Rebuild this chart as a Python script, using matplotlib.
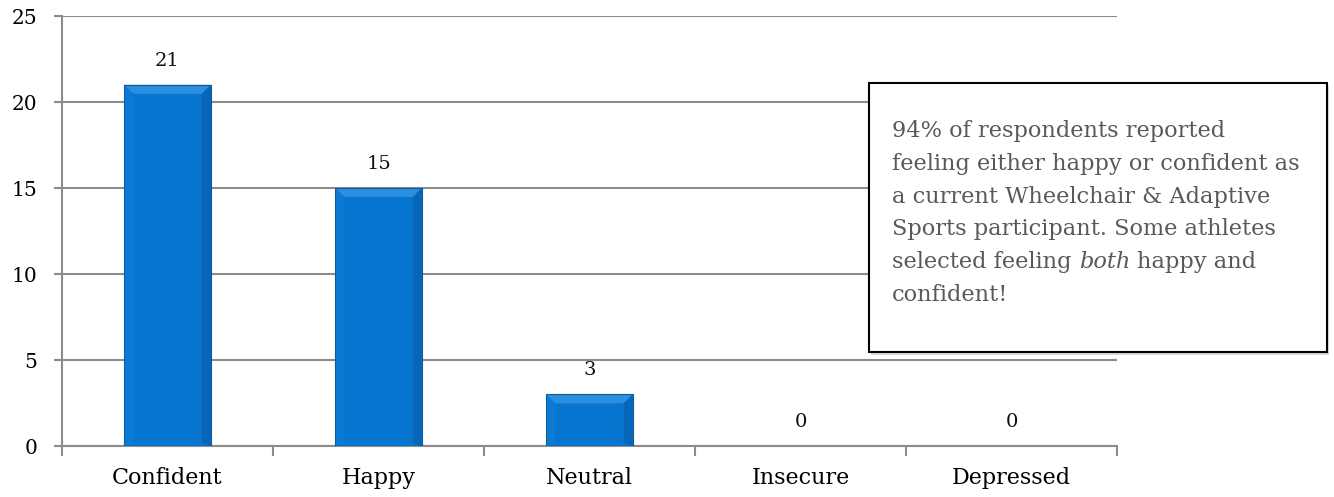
import matplotlib
matplotlib.use("Agg")
import matplotlib.pyplot as plt
from matplotlib.patches import Rectangle, Polygon
import numpy as np

categories = ["Confident", "Happy", "Neutral", "Insecure", "Depressed"]
values = [21, 15, 3, 0, 0]
yticks = [0, 5, 10, 15, 20, 25]
note_lines = [
    "94% of respondents reported",
    "feeling either happy or confident as",
    "a current Wheelchair & Adaptive",
    "Sports participant. Some athletes",
]
note_line5 = ["selected feeling", "both", "happy and"]
note_line6 = "confident!"

W, H = 1334, 497
fig = plt.figure(figsize=(W / 100, H / 100), dpi=100)
ax = fig.add_axes([62 / W, 1 - 446 / H, (1117 - 62) / W, (446 - 16) / H])

serif = ["DejaVu Serif"]
grid_c = "#8c8c8c"

x = np.arange(len(categories))
bw = 0.41
bars = ax.bar(x, values, width=bw, color="#0675CF",
              edgecolor="none", linewidth=0, zorder=3)

# bevel effect
px_x = 1.0 / 211.0   # data units per pixel (x)
px_y = 25.0 / 430.0  # data units per pixel (y)
bev = 9
for b in bars:
    h = b.get_height()
    if h <= 0:
        continue
    x0, x1 = b.get_x(), b.get_x() + b.get_width()
    dx, dy = bev * px_x, min(bev * px_y, h / 3)
    top = Polygon([(x0, h), (x1, h), (x1 - dx, h - dy), (x0 + dx, h - dy)],
                  closed=True, facecolor="#2C8EDF", edgecolor="none", zorder=4)
    left = Polygon([(x0, 0), (x0, h), (x0 + dx, h - dy), (x0 + dx, dy * 0.3)],
                   closed=True, facecolor="#0B7AD4", edgecolor="none", zorder=4)
    right = Polygon([(x1, 0), (x1, h), (x1 - dx, h - dy), (x1 - dx, dy * 0.3)],
                    closed=True, facecolor="#0866B8", edgecolor="none", zorder=4)
    for p in (top, left, right):
        ax.add_patch(p)
    ax.add_patch(Rectangle((x0, 0), x1 - x0, h, facecolor="none",
                           edgecolor="#0B5C9F", linewidth=0.8, zorder=5))

for xi, v in zip(x, values):
    ax.text(xi, v + 1.4, str(v), ha="center", va="center", fontsize=14,
            family=serif, color="#111111")

ax.set_xlim(-0.5, len(categories) - 0.5)
ax.set_ylim(0, 25)
ax.set_yticks(yticks)
ax.set_yticklabels([str(t) for t in yticks], family=serif, fontsize=14.5)
ax.set_xticks(x)
ax.set_xticklabels(categories, family=serif, fontsize=16)
ax.set_xticks(np.arange(-0.5, len(categories), 1.0), minor=True)
ax.tick_params(axis="x", which="major", length=0, pad=15)
ax.tick_params(axis="x", which="minor", length=7, width=1.5, color=grid_c, direction="out")
ax.tick_params(axis="y", length=6, width=1.5, color=grid_c, pad=12)

ax.grid(axis="y", color=grid_c, linewidth=1.5, zorder=0)
ax.set_axisbelow(True)
for s in ["top", "right"]:
    ax.spines[s].set_visible(False)
for s in ["left", "bottom"]:
    ax.spines[s].set_color(grid_c)
    ax.spines[s].set_linewidth(1.5)

# note box
bx0, by0, bx1, by1 = 869, 83, 1327, 352
fig.patches.append(Rectangle(((bx0 + 2) / W, 1 - (by1 + 3) / H), (bx1 - bx0) / W, (by1 - by0) / H,
                             transform=fig.transFigure, facecolor="#d8d8d8",
                             edgecolor="none", zorder=4))
fig.patches.append(Rectangle((bx0 / W, 1 - by1 / H), (bx1 - bx0) / W, (by1 - by0) / H,
                             transform=fig.transFigure, facecolor="white",
                             edgecolor="black", linewidth=1.5, zorder=5))

renderer = fig.canvas.get_renderer()


def text_w(s, fs, style="normal"):
    t = fig.text(0, 0, s, family=serif, fontsize=fs, style=style)
    w = t.get_window_extent(renderer).width
    t.remove()
    return w


target_w = 411.0
fs = 10 * target_w / text_w(note_lines[1], 10)

tx = 892
txt_c = "#595959"
baselines = [137, 170, 203, 235, 268, 301]
for line, yy in zip(note_lines, baselines[:4]):
    fig.text(tx / W, 1 - yy / H, line, family=serif, fontsize=fs, color=txt_c,
             va="baseline", ha="left", zorder=6)

space = text_w("a a", fs) - text_w("aa", fs)
cx = tx
for i, part in enumerate(note_line5):
    st = "italic" if i == 1 else "normal"
    fig.text(cx / W, 1 - baselines[4] / H, part, family=serif, fontsize=fs,
             color=txt_c, style=st, va="baseline", ha="left", zorder=6)
    cx += text_w(part, fs, st) + space

fig.text(tx / W, 1 - baselines[5] / H, note_line6, family=serif, fontsize=fs,
         color=txt_c, va="baseline", ha="left", zorder=6)

fig.savefig("out.png", dpi=100)
